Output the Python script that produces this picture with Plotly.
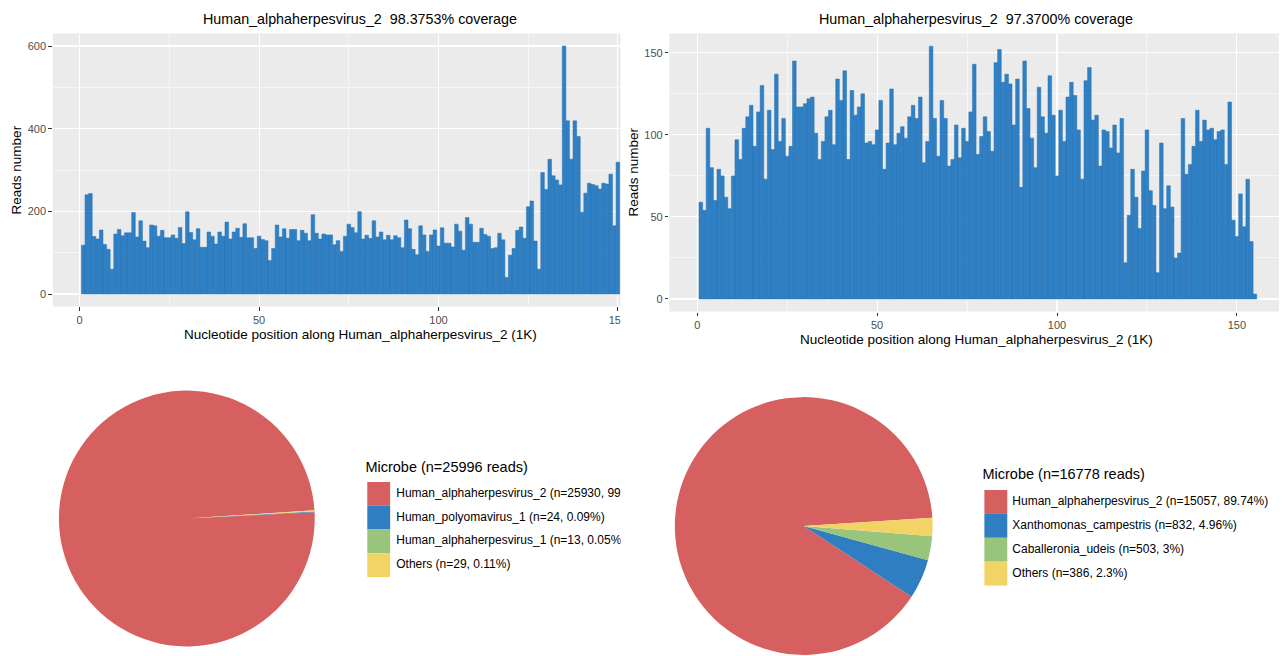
import plotly.graph_objects as go

# ---------------- data ----------------
# reads per 1K window along the genome (bin index = kb position)
bins_left = list(range(1, 151))
reads_left = [118, 240, 243, 139, 133, 155, 120, 108, 60, 145,
              156, 141, 148, 148, 197, 138, 177, 128, 112, 167,
              165, 140, 154, 136, 136, 143, 135, 161, 122, 199,
              149, 131, 158, 113, 113, 150, 140, 121, 150, 140,
              174, 133, 150, 159, 137, 170, 136, 136, 110, 140,
              132, 129, 81, 110, 167, 138, 158, 135, 156, 156,
              129, 154, 147, 129, 192, 147, 133, 145, 143, 143,
              119, 129, 103, 140, 169, 161, 148, 199, 133, 142,
              134, 177, 138, 150, 131, 142, 131, 141, 136, 112,
              179, 158, 108, 95, 165, 143, 103, 143, 155, 116,
              160, 123, 123, 114, 169, 152, 106, 185, 169, 125,
              125, 159, 144, 140, 110, 112, 147, 131, 40, 94,
              110, 154, 162, 135, 211, 225, 128, 60, 294, 253,
              326, 286, 276, 264, 600, 419, 326, 419, 381, 198,
              244, 268, 265, 262, 254, 268, 266, 290, 165, 319]

bins_right = list(range(1, 156))
reads_right = [59, 54, 104, 80, 60, 79, 75, 62, 55, 75,
               97, 85, 104, 111, 118, 93, 114, 130, 73, 115,
               91, 137, 96, 110, 87, 93, 145, 117, 117, 119,
               122, 123, 101, 85, 96, 111, 115, 94, 134, 121,
               139, 85, 127, 112, 117, 125, 95, 96, 94, 103,
               121, 79, 95, 128, 94, 101, 105, 98, 111, 118,
               110, 123, 83, 96, 154, 110, 87, 121, 110, 81,
               85, 106, 86, 104, 96, 114, 143, 88, 99, 111,
               102, 90, 144, 152, 132, 137, 131, 106, 134, 68,
               145, 116, 98, 80, 129, 111, 101, 136, 112, 75,
               115, 96, 123, 132, 124, 103, 73, 133, 141, 109,
               112, 81, 103, 102, 92, 106, 89, 110, 22, 51,
               79, 62, 43, 78, 103, 66, 57, 16, 95, 55,
               69, 56, 25, 28, 110, 76, 82, 93, 115, 96,
               109, 103, 104, 97, 102, 103, 82, 120, 48, 38,
               64, 44, 73, 35, 3]

title_left = "Human_alphaherpesvirus_2\u00a0\u00a098.3753% coverage"
title_right = "Human_alphaherpesvirus_2\u00a0\u00a097.3700% coverage"
xlabel = "Nucleotide position along Human_alphaherpesvirus_2 (1K)"
ylabel = "Reads number"

pie_left_labels = ["Human_alphaherpesvirus_2", "Human_polyomavirus_1",
                   "Human_alphaherpesvirus_1", "Others"]
pie_left_counts = [25930, 24, 13, 29]
pie_right_labels = ["Human_alphaherpesvirus_2", "Xanthomonas_campestris",
                    "Caballeronia_udeis", "Others"]
pie_right_counts = [15057, 832, 503, 386]
pie_colors = ["#D65F5F", "#2F7EC1", "#99C47B", "#F2D366"]

# ---------------- style ----------------
W, H = 1285, 656
FONT = "Liberation Sans, Arial, Helvetica, sans-serif"
BAR = "#3080C3"
BAR_EDGE = "#2170B6"
PANEL = "#EBEBEB"
TICKC = "#4D4D4D"
START_DEG = 86.3  # angle (clockwise from 12 o'clock) where the last slice ends


def px(x):
    return x / W


def py(y):
    return 1 - y / H


def legend_text(label, n, total):
    p = round(100 * n / total, 2)
    return f"{label} (n={n}, {p:g}%)"


def pie_rotation(counts):
    tot = sum(counts)
    return START_DEG + 360.0 * (tot - counts[0]) / tot


fig = go.Figure()

bar_common = dict(width=1, marker=dict(color=BAR, line=dict(color=BAR_EDGE, width=0.5)),
                  hoverinfo="skip", showlegend=False)
fig.add_trace(go.Bar(x=bins_left, y=reads_left, xaxis="x", yaxis="y", **bar_common))
fig.add_trace(go.Bar(x=bins_right, y=reads_right, xaxis="x2", yaxis="y2", **bar_common))

pie_common = dict(sort=False, direction="counterclockwise",
                  textinfo="none", hoverinfo="skip", showlegend=False)
fig.add_trace(go.Pie(labels=pie_left_labels, values=pie_left_counts,
                     rotation=pie_rotation(pie_left_counts),
                     marker=dict(colors=pie_colors, line=dict(width=0)),
                     domain=dict(x=[px(59.2), px(316.2)], y=[py(647.5), py(389.5)]),
                     **pie_common))
fig.add_trace(go.Pie(labels=pie_right_labels, values=pie_right_counts,
                     rotation=pie_rotation(pie_right_counts),
                     marker=dict(colors=pie_colors, line=dict(width=0)),
                     domain=dict(x=[px(678), px(937)], y=[py(656), py(396)]),
                     **pie_common))

# ---- manual ggplot-like legends (text clipped like the cropped original) ----
tot_l = sum(pie_left_counts)
tot_r = sum(pie_right_counts)
leg = [
    dict(ax="3", title=f"Microbe (n={tot_l} reads)", tx=368.6, ty=468.5,
         kx0=369, kx1=392, ktop=482, kh=23.75, itx=399.6,
         items=[legend_text(l, n, tot_l) for l, n in zip(pie_left_labels, pie_left_counts)]),
    dict(ax="4", title=f"Microbe (n={tot_r} reads)", tx=988.6, ty=475.5,
         kx0=989, kx1=1012, ktop=490, kh=23.9, itx=1018.6,
         items=[legend_text(l, n, tot_r) for l, n in zip(pie_right_labels, pie_right_counts)]),
]
shapes = []
for L in leg:
    xr, yr = "x" + L["ax"], "y" + L["ax"]
    ys = [L["ktop"] + L["kh"] * (i + 0.5) for i in range(len(L["items"]))]
    fig.add_trace(go.Scatter(x=[L["tx"] - 1.5], y=[L["ty"]], mode="text", text=[L["title"]],
                             textposition="middle right", cliponaxis=True,
                             textfont=dict(family=FONT, size=14.5, color="#000000"),
                             xaxis=xr, yaxis=yr, hoverinfo="skip", showlegend=False))
    fig.add_trace(go.Scatter(x=[L["itx"] - 1.5] * len(ys), y=ys, mode="text", text=L["items"],
                             textposition="middle right", cliponaxis=True,
                             textfont=dict(family=FONT, size=12, color="#000000"),
                             xaxis=xr, yaxis=yr, hoverinfo="skip", showlegend=False))
    for i, c in enumerate(pie_colors):
        shapes.append(dict(type="rect", xref=xr, yref=yr, x0=L["kx0"], x1=L["kx1"],
                           y0=L["ktop"] + L["kh"] * i, y1=L["ktop"] + L["kh"] * (i + 1),
                           fillcolor=c, line=dict(width=0), layer="above"))

# grey panels
shapes.append(dict(type="rect", xref="paper", yref="paper", x0=px(53), x1=px(623.5),
                   y0=py(306.4), y1=py(33.6), fillcolor=PANEL, line=dict(width=0), layer="below"))
shapes.append(dict(type="rect", xref="paper", yref="paper", x0=px(672.5), x1=1,
                   y0=py(311.6), y1=py(33.6), fillcolor=PANEL, line=dict(width=0), layer="below"))
# crop of the left figure (cuts the last tick label like the original)
shapes.append(dict(type="rect", xref="paper", yref="paper", x0=px(623.5), x1=px(645),
                   y0=py(330), y1=py(300), fillcolor="white", line=dict(width=0), layer="above"))

axis_common = dict(showgrid=True, gridcolor="white", gridwidth=1.1, zeroline=False,
                   showline=False, ticks="outside", ticklen=3.5, tickwidth=1,
                   tickcolor="#333333", tickfont=dict(family=FONT, size=11, color=TICKC),
                   fixedrange=True)

annotations = []
for txt, x, y in [(title_left, 362, 19), (title_right, 981, 19)]:
    annotations.append(dict(text=txt, x=px(x), y=py(y), xref="paper", yref="paper",
                            showarrow=False, xanchor="center", yanchor="middle",
                            font=dict(family=FONT, size=14.3, color="#000000")))
for x, y in [(362, 335), (981, 339)]:
    annotations.append(dict(text=xlabel, x=px(x), y=py(y), xref="paper", yref="paper",
                            showarrow=False, xanchor="center", yanchor="middle",
                            font=dict(family=FONT, size=13.5, color="#000000")))
for x, y in [(16.5, 170), (636, 172.5)]:
    annotations.append(dict(text=ylabel, x=px(x), y=py(y), xref="paper", yref="paper",
                            showarrow=False, xanchor="center", yanchor="middle", textangle=-90,
                            font=dict(family=FONT, size=13.5, color="#000000")))

fig.update_layout(
    width=W, height=H, margin=dict(l=0, r=0, t=0, b=0, pad=0),
    paper_bgcolor="white", plot_bgcolor="rgba(0,0,0,0)",
    bargap=0, showlegend=False, autosize=False,
    font=dict(family=FONT),
    xaxis=dict(domain=[px(53), px(623.5)], range=[-7.5, 150.75], dtick=50, tick0=0,
               minor=dict(dtick=25, showgrid=True, gridcolor="white", gridwidth=0.55),
               anchor="y", **axis_common),
    yaxis=dict(domain=[py(306.4), py(33.6)], range=[-30, 630], dtick=200, tick0=0,
               minor=dict(dtick=100, showgrid=True, gridcolor="white", gridwidth=0.55),
               anchor="x", **axis_common),
    xaxis2=dict(domain=[px(672.5), 1], range=[-7.74, 161.7], dtick=50, tick0=0,
                minor=dict(dtick=25, showgrid=True, gridcolor="white", gridwidth=0.55),
                anchor="y2", **axis_common),
    yaxis2=dict(domain=[py(311.6), py(33.6)], range=[-7.7, 161.7], dtick=50, tick0=0,
                minor=dict(dtick=25, showgrid=True, gridcolor="white", gridwidth=0.55),
                anchor="x2", **axis_common),
    xaxis3=dict(domain=[0, px(623.5)], range=[0, 623.5], visible=False, fixedrange=True,
                anchor="y3"),
    yaxis3=dict(domain=[0, 1], range=[656, 0], visible=False, fixedrange=True, anchor="x3"),
    xaxis4=dict(domain=[px(640), 1], range=[640, 1285], visible=False, fixedrange=True,
                anchor="y4"),
    yaxis4=dict(domain=[0, 1], range=[656, 0], visible=False, fixedrange=True, anchor="x4"),
    shapes=shapes,
    annotations=annotations,
)

fig.write_html(
    "out.html",
    config={"displayModeBar": False, "responsive": False, "staticPlot": True},
    post_script=("document.documentElement.style.margin='0';"
                 "document.documentElement.style.overflow='hidden';"
                 "document.body.style.margin='0';"
                 "document.body.style.overflow='hidden';"),
)
